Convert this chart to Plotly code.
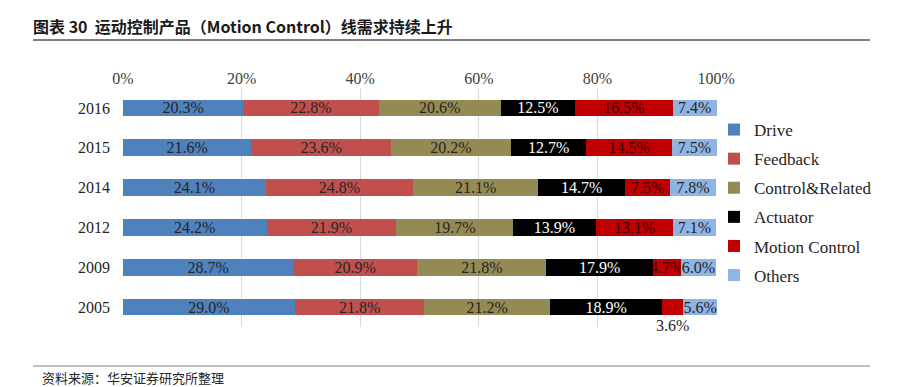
import plotly.graph_objects as go

years = ["2016", "2015", "2014", "2012", "2009", "2005"]
series_names = ["Drive", "Feedback", "Control&Related", "Actuator", "Motion Control", "Others"]
drive = [20.3, 21.6, 24.1, 24.2, 28.7, 29.0]
feedback = [22.8, 23.6, 24.8, 21.9, 20.9, 21.8]
control_related = [20.6, 20.2, 21.1, 19.7, 21.8, 21.2]
actuator = [12.5, 12.7, 14.7, 13.9, 17.9, 18.9]
motion_control = [16.5, 14.5, 7.5, 13.1, 4.7, 3.6]
others = [7.4, 7.5, 7.8, 7.1, 6.0, 5.6]
x_ticks = [0, 20, 40, 60, 80, 100]
x_tick_labels = ["0%", "20%", "40%", "60%", "80%", "100%"]

values = [drive, feedback, control_related, actuator, motion_control, others]
colors = ["#4F81BD", "#C0504D", "#948A54", "#000000", "#C00000", "#8DB4E2"]
text_colors = ["#262626", "#262626", "#262626", "#FFFFFF", "#3a0000", "#262626"]

SERIF = "Liberation Serif, Times New Roman, serif"
cat_order = years[::-1]

# page body has an 8px default margin; work in screen pixels and compensate
OFF = 8
FIG_W, FIG_H = 905 - OFF, 387 - OFF
PLOT_TOP, PLOT_BOTTOM = 88 - OFF, 327 - OFF
PLOT_LEFT, PLOT_W = 123 - OFF, 594
PLOT_H = PLOT_BOTTOM - PLOT_TOP


def px_x(px):
    return (px - OFF - PLOT_LEFT) / PLOT_W


def px_y(py):
    return (PLOT_BOTTOM - (py - OFF)) / PLOT_H


fig = go.Figure()
below_labels = []
for i, (name, vals) in enumerate(zip(series_names, values)):
    texts = []
    for j, v in enumerate(vals):
        # the tiny 2005 Motion Control segment has its label placed under the bar
        if name == "Motion Control" and years[j] == "2005":
            texts.append("")
            start = sum(values[k][j] for k in range(i))
            below_labels.append((start + v / 2, cat_order.index(years[j]), f"{v:.1f}%"))
        else:
            texts.append(f"{v:.1f}%")
    fig.add_trace(go.Bar(
        name=name, y=years, x=vals, orientation="h",
        marker=dict(color=colors[i], line=dict(width=0)),
        text=texts, textposition="inside", insidetextanchor="middle",
        textangle=0, constraintext="none",
        textfont=dict(family=SERIF, size=16, color=text_colors[i]),
        legendgroup=name, cliponaxis=False,
    ))

for xv, yv, t in below_labels:
    fig.add_annotation(x=xv, y=yv, text=t, showarrow=False, yshift=-18,
                       font=dict(family=SERIF, size=16, color="#262626"))

fig.update_layout(
    width=FIG_W, height=FIG_H,
    barmode="stack", bargap=0.58,
    plot_bgcolor="white", paper_bgcolor="white",
    margin=dict(l=PLOT_LEFT, r=FIG_W - PLOT_LEFT - PLOT_W, t=PLOT_TOP, b=FIG_H - PLOT_BOTTOM,
                autoexpand=False),
    showlegend=True,
    uniformtext=dict(mode=False),
    legend=dict(
        x=px_x(714), xanchor="left", y=px_y(112), yanchor="top",
        traceorder="grouped", tracegroupgap=4,
        font=dict(family=SERIF, size=17, color="#262626"),
        itemwidth=30, bgcolor="rgba(0,0,0,0)",
    ),
    xaxis=dict(
        range=[0, 100.15], side="top", tickvals=x_ticks, ticktext=x_tick_labels,
        showgrid=True, gridcolor="#D9D9D9", gridwidth=1,
        zeroline=False, showline=False, ticks="", automargin=False,
        tickfont=dict(family=SERIF, size=16, color="#404040"),
        fixedrange=True,
    ),
    yaxis=dict(
        type="category", categoryorder="array", categoryarray=cat_order,
        range=[-0.5, len(cat_order) - 0.5], autorange=False, automargin=False,
        showgrid=False, zeroline=False, showline=False, ticks="",
        ticklabelstandoff=12,
        tickfont=dict(family=SERIF, size=16, color="#262626"),
    ),
)

# title and source
fig.add_annotation(xref="paper", yref="paper", x=px_x(31), y=px_y(26),
                   xanchor="left", yanchor="middle", showarrow=False,
                   text="<b>图表 30  运动控制产品（Motion Control）线需求持续上升</b>",
                   font=dict(family="Noto Sans CJK SC", size=16, color="#1a1a1a"))
fig.add_shape(type="line", xref="paper", yref="paper",
              x0=px_x(33), x1=px_x(870), y0=px_y(40), y1=px_y(40),
              line=dict(color="#808080", width=2))
fig.add_shape(type="line", xref="paper", yref="paper",
              x0=px_x(33), x1=px_x(870), y0=px_y(366), y1=px_y(366),
              line=dict(color="#808080", width=1))
fig.add_annotation(xref="paper", yref="paper", x=px_x(40), y=px_y(377),
                   xanchor="left", yanchor="middle", showarrow=False,
                   text="资料来源：华安证券研究所整理",
                   font=dict(family="Noto Sans CJK SC", size=13, color="#262626"))

fig.write_html("out.html")
